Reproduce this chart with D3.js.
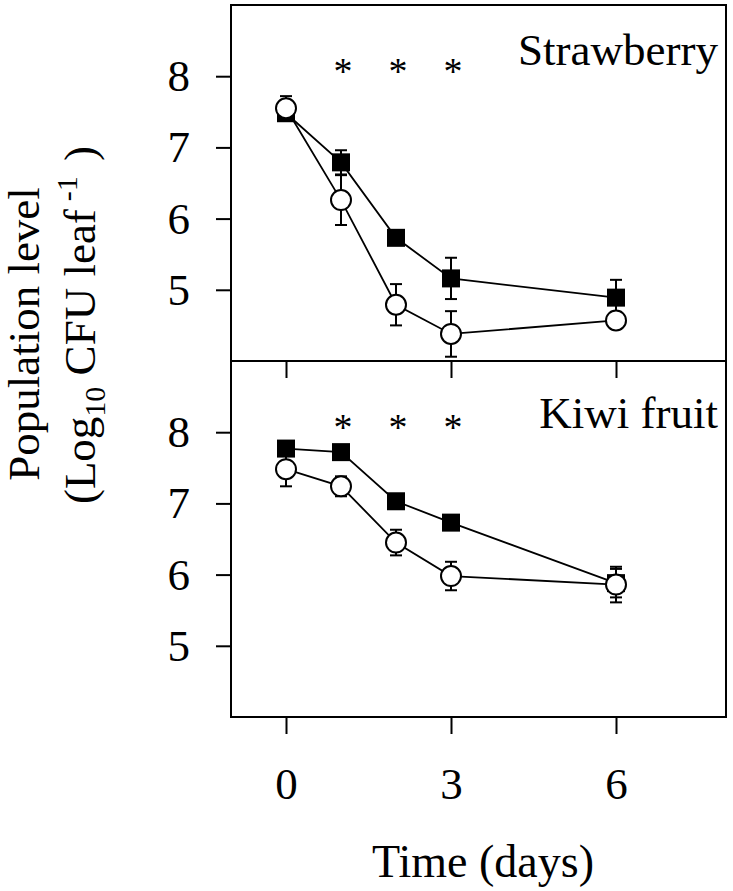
<!DOCTYPE html>
<html>
<head>
<meta charset="utf-8">
<script src="https://cdn.jsdelivr.net/npm/d3@7"></script>
<style>
  html, body { margin: 0; padding: 0; background: #fff; }
  svg text { font-family: "Liberation Serif", "Times New Roman", serif; fill: #000; }
</style>
</head>
<body>
<svg id="chart" width="733" height="891"></svg>
<script>
// ---- data ----
const days = [0, 1, 2, 3, 6];
const strawFilled    = [7.48, 6.79, 5.73, 5.16, 4.89];
const strawFilledErr = [0.10, 0.17, 0.08, 0.29, 0.25];
const strawOpen      = [7.55, 6.26, 4.79, 4.38, 4.57];
const strawOpenErr   = [0.17, 0.35, 0.29, 0.32, 0.12];
const kiwiFilled     = [7.77, 7.72, 7.03, 6.73, 5.88];
const kiwiFilledErr  = [0.08, 0.08, 0.08, 0.08, 0.20];
const kiwiOpen       = [7.48, 7.24, 6.45, 5.98, 5.86];
const kiwiOpenErr    = [0.24, 0.14, 0.18, 0.20, 0.25];
const sigDays = [1, 2, 3];
const xTicks = [0, 3, 6];
const yTicks = [5, 6, 7, 8];
const panelNames = ["Strawberry", "Kiwi fruit"];
const xLabel = "Time (days)";

// ---- layout ----
const svg = d3.select("#chart");
const left = 231, right = 726;
const x = d3.scaleLinear().domain([-1, 8]).range([left, right]);
const panels = [
  { name: panelNames[0], top: 5, bottom: 361, filled: strawFilled, filledErr: strawFilledErr, open: strawOpen, openErr: strawOpenErr },
  { name: panelNames[1], top: 361, bottom: 717, filled: kiwiFilled, filledErr: kiwiFilledErr, open: kiwiOpen, openErr: kiwiOpenErr }
];

panels.forEach((p, pi) => {
  const y = d3.scaleLinear().domain([4, 9]).range([p.bottom, p.top]);
  const g = svg.append("g");

  // frame
  g.append("rect").attr("x", left).attr("y", p.top)
    .attr("width", right - left).attr("height", p.bottom - p.top)
    .attr("fill", "none").attr("stroke", "#000").attr("stroke-width", 2);

  // y axis
  const ya = g.append("g").attr("transform", `translate(${left},0)`)
    .call(d3.axisLeft(y).tickValues(yTicks).tickFormat(d3.format("d")).tickSize(15).tickPadding(26));
  ya.select(".domain").remove();
  ya.selectAll("line").attr("stroke", "#000").attr("stroke-width", 2);
  ya.selectAll("text").attr("font-size", 45).attr("font-family", "Liberation Serif");

  // x axis (ticks going down from panel bottom)
  const xa = g.append("g").attr("transform", `translate(0,${p.bottom})`)
    .call(d3.axisBottom(x).tickValues(xTicks).tickFormat(pi === 1 ? d3.format("d") : () => "").tickSize(17).tickPadding(33));
  xa.select(".domain").remove();
  xa.selectAll("line").attr("stroke", "#000").attr("stroke-width", 2);
  xa.selectAll("text").attr("font-size", 45).attr("font-family", "Liberation Serif");

  const line = d3.line().x((d, i) => x(days[i])).y(d => y(d));

  // lines
  g.append("path").datum(p.filled).attr("d", line)
    .attr("fill", "none").attr("stroke", "#000").attr("stroke-width", 1.8);
  g.append("path").datum(p.open).attr("d", line)
    .attr("fill", "none").attr("stroke", "#000").attr("stroke-width", 1.8);

  // error bars
  const drawErr = (vals, errs) => {
    const eg = g.append("g").attr("stroke", "#000").attr("stroke-width", 2);
    vals.forEach((v, i) => {
      const cx = x(days[i]);
      eg.append("line").attr("x1", cx).attr("x2", cx).attr("y1", y(v - errs[i])).attr("y2", y(v + errs[i]));
      [v - errs[i], v + errs[i]].forEach(e => {
        eg.append("line").attr("x1", cx - 6).attr("x2", cx + 6).attr("y1", y(e)).attr("y2", y(e));
      });
    });
  };
  drawErr(p.filled, p.filledErr);
  drawErr(p.open, p.openErr);

  // markers
  const s = 18;
  g.selectAll(".sq").data(p.filled).enter().append("rect")
    .attr("x", (d, i) => x(days[i]) - s / 2).attr("y", d => y(d) - s / 2)
    .attr("width", s).attr("height", s).attr("fill", "#000");
  g.selectAll(".ci").data(p.open).enter().append("circle")
    .attr("cx", (d, i) => x(days[i])).attr("cy", d => y(d)).attr("r", 10)
    .attr("fill", "#fff").attr("stroke", "#000").attr("stroke-width", 2);

  // significance asterisks
  g.selectAll(".ast").data(sigDays).enter().append("text")
    .attr("x", d => x(d) + 2).attr("y", p.top + 79)
    .attr("text-anchor", "middle").attr("font-size", 38).text("*");

  // panel name
  g.append("text").attr("x", 718).attr("y", p.top + (pi === 0 ? 60 : 67))
    .attr("text-anchor", "end").attr("font-size", 45).text(p.name);
});

// x label
svg.append("text").attr("x", 483).attr("y", 877).attr("text-anchor", "middle")
  .attr("font-size", 46).text(xLabel);

// y label
svg.append("text").attr("transform", "translate(39,334) rotate(-90)")
  .attr("text-anchor", "middle").attr("font-size", 45).text("Population level");
const yl2 = svg.append("text").attr("transform", "translate(95,325) rotate(-90)")
  .attr("text-anchor", "middle").attr("font-size", 45);
yl2.append("tspan").text("(Log");
yl2.append("tspan").attr("font-size", 30).attr("dy", 10).text("10");
yl2.append("tspan").attr("dy", -10).text(" CFU leaf");
yl2.append("tspan").attr("font-size", 30).attr("dy", -18).attr("dx", 8).text("-1");
yl2.append("tspan").attr("dy", 18).attr("dx", 4).text(" )");
</script>
</body>
</html>
